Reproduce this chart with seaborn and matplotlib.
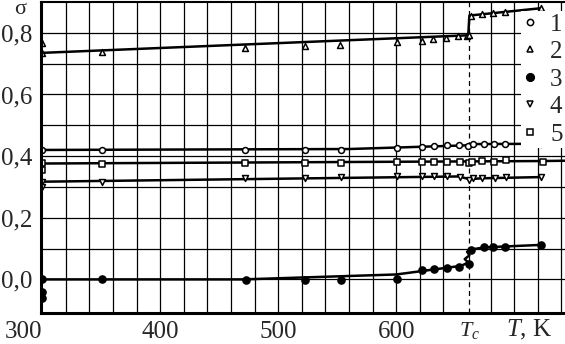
import numpy as np
import pandas as pd
import seaborn as sns
import matplotlib.pyplot as plt
from matplotlib.lines import Line2D

# measured points, sigma vs T
s1_T = [300, 351, 472, 523, 553, 601, 622, 632, 643, 653, 661, 665, 674, 683, 692, 723]
s1 = [0.420, 0.420, 0.420, 0.420, 0.420, 0.426, 0.431, 0.433, 0.436, 0.436, 0.433, 0.439, 0.440, 0.440, 0.440, 0.440]

s2_T = [300, 300, 351, 472, 523, 552, 601, 622, 631, 642, 652, 660, 662, 663, 673, 682, 692, 723]
s2 = [0.768, 0.735, 0.739, 0.751, 0.756, 0.761, 0.769, 0.775, 0.780, 0.783, 0.790, 0.791, 0.793,
      0.856, 0.862, 0.864, 0.867, 0.880]

s3_T = [300, 300, 300, 351, 473, 523, 553, 601, 622, 632, 643, 653, 662, 663, 674, 682, 692, 723]
s3 = [0.001, -0.040, -0.061, 0.0, -0.001, -0.002, -0.002, 0.0, 0.031, 0.033, 0.038, 0.041, 0.049,
      0.095, 0.104, 0.104, 0.104, 0.112]

s4_T = [300, 300, 351, 472, 523, 553, 601, 622, 632, 643, 654, 662, 665, 673, 684, 693, 723]
s4 = [0.317, 0.301, 0.317, 0.328, 0.330, 0.333, 0.337, 0.336, 0.336, 0.336, 0.332, 0.324, 0.328,
      0.328, 0.330, 0.332, 0.332]

s5_T = [300, 300, 351, 472, 523, 553, 601, 622, 632, 643, 654, 662, 664, 673, 683, 693, 724]
s5 = [0.377, 0.355, 0.374, 0.377, 0.379, 0.379, 0.382, 0.382, 0.382, 0.382, 0.380, 0.377, 0.382,
      0.384, 0.382, 0.388, 0.382]

# drawn fit curves
f1_T = [300, 560, 660, 664, 723]
f1 = [0.420, 0.423, 0.435, 0.439, 0.440]
f2_T = [300, 661, 662, 723]
f2 = [0.735, 0.792, 0.856, 0.880]
f3_T = [300, 470, 600, 655, 661, 658, 662, 660, 665, 675, 723]
f3 = [0.0, 0.0, 0.016, 0.044, 0.055, 0.066, 0.078, 0.090, 0.098, 0.104, 0.112]
f4_T = [300, 653, 662, 672, 723]
f4 = [0.317, 0.334, 0.325, 0.328, 0.332]
f5_T = [300, 723, 743]
f5 = [0.376, 0.384, 0.385]

Tc = 662
series_labels = ["1", "2", "3", "4", "5"]
xtick_vals = [300, 400, 500, 600]
ytick_vals = [0.0, 0.2, 0.4, 0.6, 0.8]
ytick_labels = ["0,0", "0,2", "0,4", "0,6", "0,8"]
grid_x = [t for t in range(320, 741, 20) if t != 660]
grid_y = [0.0, 0.1, 0.2, 0.3, 0.4, 0.5, 0.6, 0.7, 0.8]

sns.set_style("white")
plt.rcParams["font.family"] = "Liberation Serif"
plt.rcParams["mathtext.fontset"] = "custom"
plt.rcParams["mathtext.rm"] = "Liberation Serif"
plt.rcParams["mathtext.it"] = "Liberation Serif:italic"

fig = plt.figure(figsize=(5.65, 3.44), dpi=100)
ax = fig.add_axes([41 / 565, 31 / 344, 524 / 565, 311 / 344])

for gx in grid_x:
    ax.axvline(gx, color="black", lw=0.9, zorder=1)
for gy in grid_y:
    ax.axhline(gy, color="black", lw=0.9, zorder=1)
ax.axvline(Tc, color="black", lw=0.9, ls=(0, (4, 3)), zorder=1)

fits = [(f1_T, f1), (f2_T, f2), (f3_T, f3), (f4_T, f4), (f5_T, f5)]
for ft, fv in fits:
    sns.lineplot(x=ft, y=fv, sort=False, estimator=None, color="black", lw=1.8, ax=ax, zorder=2)

styles = [("o", "white", 18), ("^", "white", 18), ("o", "black", 26), ("v", "white", 18), ("s", "white", 18)]
points = [(s1_T, s1), (s2_T, s2), (s3_T, s3), (s4_T, s4), (s5_T, s5)]
for (pt, pv), (mk, fc, sz) in zip(points, styles):
    sns.scatterplot(x=pt, y=pv, marker=mk, s=sz, facecolor=fc, edgecolor="black",
                    linewidth=1.1, ax=ax, zorder=3)

handles = [Line2D([], [], marker=mk, ls="", mfc=fc, mec="black", mew=1.1,
                  ms=4.5 if fc == "white" else 5.5) for mk, fc, sz in styles]
leg = ax.legend(handles, series_labels, loc="upper right", bbox_to_anchor=(1.0, 0.972),
                frameon=True, framealpha=1, edgecolor="none", fancybox=False,
                handlelength=0.5, handletextpad=0.55, borderpad=0.1, labelspacing=0.2,
                borderaxespad=0.0, fontsize=18)
leg.set_zorder(5)

ax.set_xlim(299, 743)
ax.set_ylim(-0.109, 0.9)
ax.set_xticks(xtick_vals)
ax.set_xticklabels([str(v) for v in xtick_vals], fontsize=18)
ax.get_xticklabels()[0].set_ha("right")
ax.set_yticks(ytick_vals)
ax.set_yticklabels(ytick_labels, fontsize=18)
ax.tick_params(length=0, pad=6)
ax.set_xlabel("")
ax.set_ylabel("")

ax.text(Tc, -0.165, "$T_c$", fontsize=16, ha="center", va="center")
ax.text(713, -0.165, "$T$, K", fontsize=18, ha="center", va="center")
fig.text(20 / 565, 1.0, "σ", fontsize=16, ha="center", va="top")

for side in ["left", "bottom"]:
    ax.spines[side].set_linewidth(2.2)
ax.spines["top"].set_linewidth(1.5)
ax.spines["right"].set_visible(False)
for sp in ax.spines.values():
    sp.set_color("black")
    sp.set_zorder(4)

fig.savefig("out.png", dpi=100)
